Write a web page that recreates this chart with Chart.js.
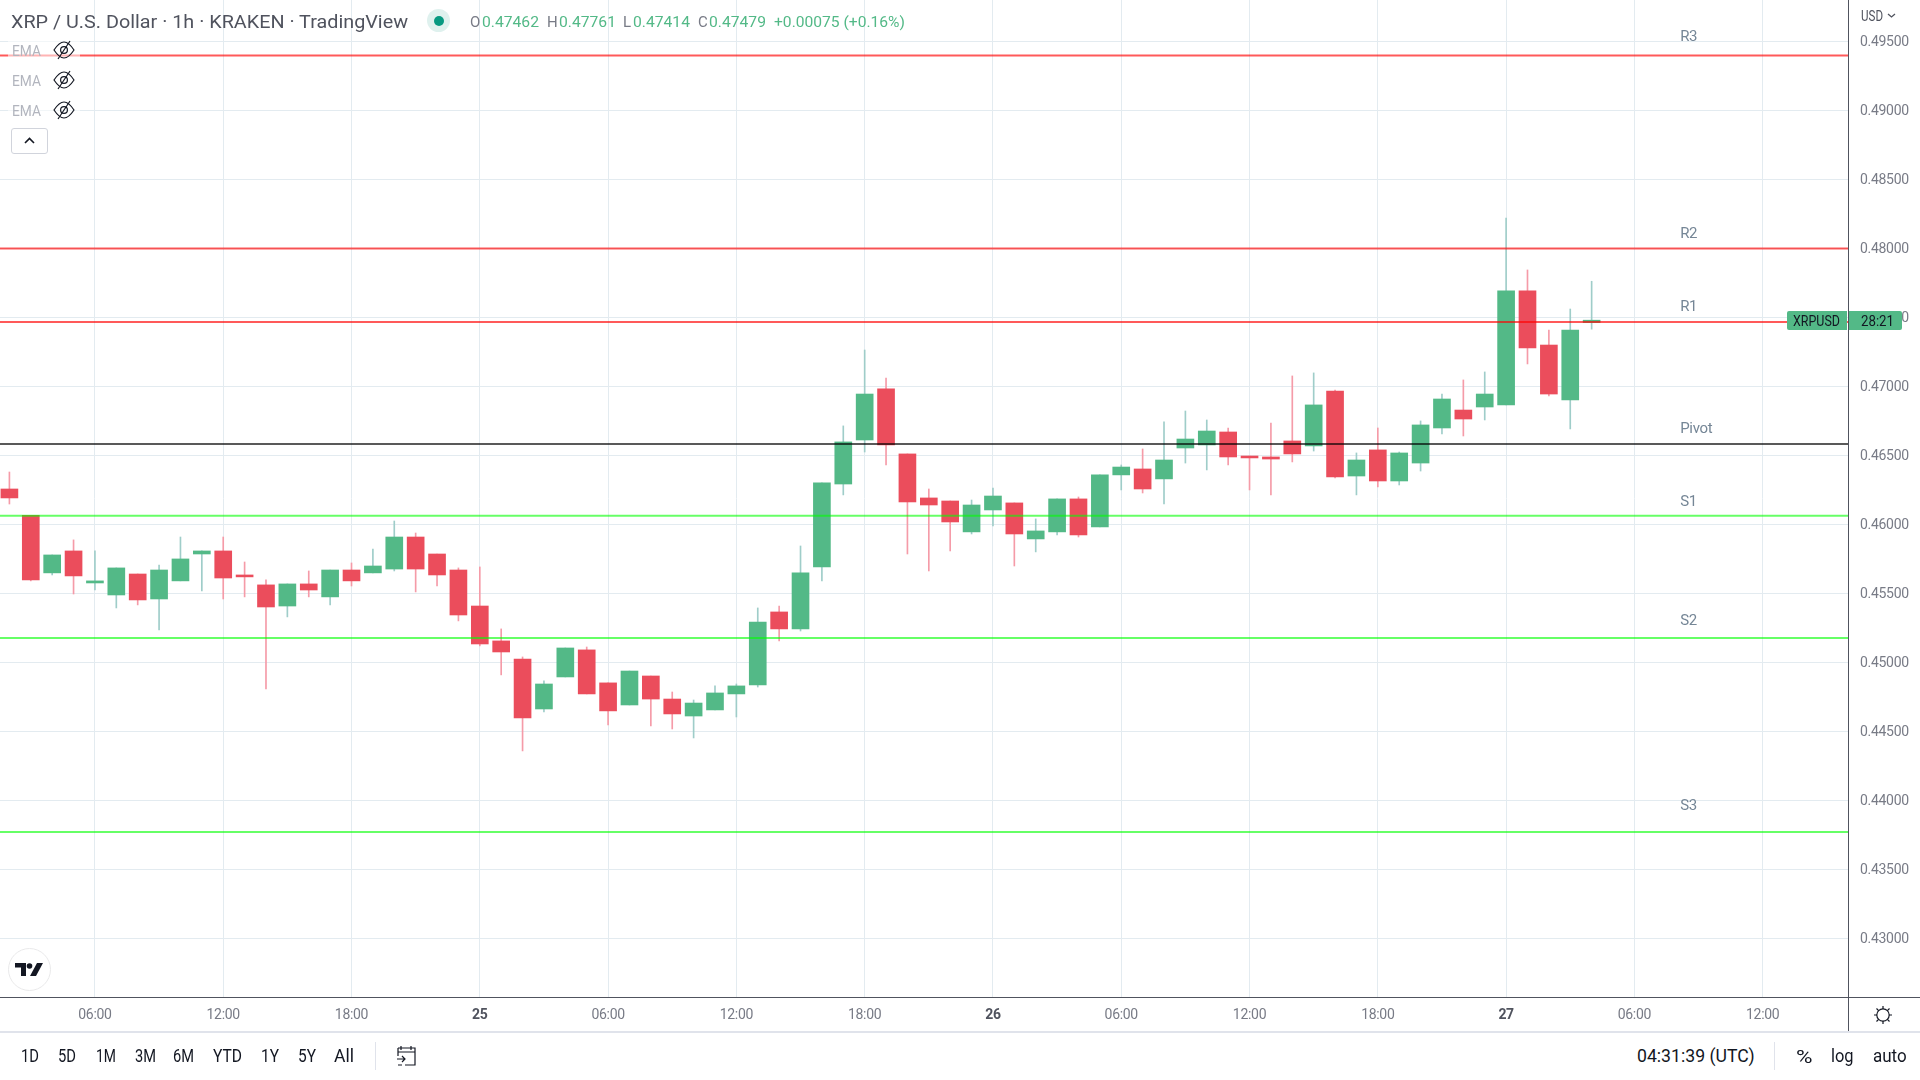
<!DOCTYPE html>
<html><head><meta charset="utf-8">
<script src="https://cdn.jsdelivr.net/npm/chart.js@4"></script>
<style>
html,body{margin:0;padding:0;background:#fff;width:1920px;height:1080px;overflow:hidden}
body{font-family:Roboto,"Liberation Sans",sans-serif;position:relative}
canvas{position:absolute;left:0;top:0}
.t{position:absolute;white-space:nowrap;line-height:1;transform-origin:0 50%}
.l{position:absolute}
svg{position:absolute;overflow:visible}
</style></head><body>
<canvas id="chart" width="1920" height="1031"></canvas>
<div id="ui"></div>
<script>
const opens=[0.46256,0.46065,0.45648,0.45807,0.45575,0.45488,0.45640,0.45459,0.45590,0.45785,0.45807,0.45633,0.45561,0.45408,0.45568,0.45474,0.45669,0.45648,0.45676,0.45908,0.45785,0.45669,0.45408,0.45155,0.45024,0.44662,0.44894,0.45090,0.44851,0.44691,0.44901,0.44734,0.44611,0.44655,0.44771,0.44836,0.45365,0.45242,0.45691,0.46292,0.46611,0.46981,0.46510,0.46191,0.46169,0.45945,0.46104,0.46155,0.45894,0.45945,0.46184,0.45981,0.46358,0.46401,0.46329,0.46553,0.46575,0.46669,0.46495,0.46488,0.46604,0.46568,0.46966,0.46350,0.46539,0.46314,0.46444,0.46698,0.46828,0.46850,0.46865,0.47691,0.47299,0.46901,0.47462];
const highs=[0.46379,0.46065,0.45778,0.45887,0.45807,0.45684,0.45640,0.45705,0.45908,0.45807,0.45908,0.45727,0.45597,0.45568,0.45662,0.45669,0.45720,0.45821,0.46024,0.45937,0.45785,0.45684,0.45691,0.45242,0.45039,0.44865,0.45104,0.45111,0.44851,0.44937,0.44901,0.44785,0.44727,0.44829,0.44843,0.45394,0.45408,0.45843,0.46300,0.46713,0.47263,0.47060,0.46510,0.46256,0.46169,0.46176,0.46263,0.46155,0.46039,0.46184,0.46198,0.46358,0.46430,0.46546,0.46742,0.46821,0.46756,0.46698,0.46495,0.46734,0.47075,0.47097,0.46973,0.46517,0.46698,0.46524,0.46749,0.46944,0.47046,0.47104,0.48219,0.47843,0.47408,0.47560,0.47761];
const lows=[0.46147,0.45590,0.45633,0.45495,0.45524,0.45394,0.45416,0.45235,0.45590,0.45517,0.45459,0.45474,0.44807,0.45329,0.45474,0.45416,0.45553,0.45648,0.45662,0.45510,0.45553,0.45300,0.45119,0.44909,0.44358,0.44640,0.44894,0.44771,0.44546,0.44691,0.44539,0.44517,0.44452,0.44655,0.44604,0.44821,0.45155,0.45227,0.45590,0.46213,0.46524,0.46430,0.45785,0.45662,0.45807,0.45930,0.45988,0.45698,0.45800,0.45923,0.45908,0.45981,0.46249,0.46227,0.46147,0.46444,0.46394,0.46430,0.46249,0.46213,0.46452,0.46531,0.46336,0.46213,0.46271,0.46285,0.46386,0.46655,0.46640,0.46756,0.46865,0.47162,0.46930,0.46691,0.47414];
const closes=[0.46191,0.45597,0.45778,0.45626,0.45590,0.45684,0.45452,0.45669,0.45749,0.45807,0.45611,0.45619,0.45401,0.45568,0.45524,0.45669,0.45590,0.45698,0.45908,0.45676,0.45633,0.45343,0.45133,0.45075,0.44597,0.44843,0.45104,0.44771,0.44648,0.44937,0.44734,0.44626,0.44705,0.44778,0.44829,0.45292,0.45242,0.45648,0.46300,0.46597,0.46944,0.46575,0.46162,0.46140,0.46017,0.46140,0.46205,0.45930,0.45952,0.46184,0.45923,0.46358,0.46415,0.46256,0.46466,0.46618,0.46676,0.46488,0.46481,0.46473,0.46510,0.46865,0.46343,0.46466,0.46314,0.46517,0.46720,0.46908,0.46763,0.46944,0.47691,0.47278,0.46944,0.47408,0.47479];
const levelNames=["R3","R2","R1","Pivot","S1","S2","S3"];
const levelValues=[0.49396,0.47998,0.47466,0.46582,0.46062,0.45176,0.43770];
const levelLabelPrices=[0.49529,0.48105,0.47571,0.46687,0.46163,0.45296,0.43957];
const levelColors=["rgba(255,0,0,.65)","rgba(255,0,0,.65)","rgba(255,0,0,.65)","rgba(0,0,0,.65)","rgba(0,255,0,.6)","rgba(0,255,0,.6)","rgba(0,255,0,.6)"];
const priceTicks=[0.43,0.435,0.44,0.445,0.45,0.455,0.46,0.465,0.47,0.475,0.48,0.485,0.49,0.495];
const timeTickIndex=[4,10,16,22,28,34,40,46,52,58,64,70,76,82];
const timeTickLabels=["06:00","12:00","18:00","25","06:00","12:00","18:00","26","06:00","12:00","18:00","27","06:00","12:00"];
const boldTimeLabels=["25","26","27"];
const xRange=[-0.44,85.99], yRange=[0.42575,0.49799], levelLabelX=78.14;
const UP="#53b987",DOWN="#eb4d5c",UPW="#9fcdc9",DOWNW="#f59ba8";

const isUp=i=>closes[i]>=opens[i];
const bodies=opens.map((o,i)=>({x:i,y:[o,closes[i]]}));
const wicks=lows.map((l,i)=>({x:i,y:[l,highs[i]]}));
const levelDatasets=levelValues.map((v,k)=>({type:'line',label:levelNames[k],data:[{x:xRange[0],y:v},{x:xRange[1],y:v}],borderColor:levelColors[k],borderWidth:2,pointRadius:0,order:0}));

const levelLabelPlugin={id:'levelLabels',
 afterLayout(c){const s=c.scales.y,orig=s.drawLabels.bind(s);
  s.drawLabels=a=>{c.ctx.save();c.ctx.translate(0,1.2);orig(a);c.ctx.restore();};},
 beforeDraw(c){c.ctx.letterSpacing='-0.3px';},
 afterDatasetsDraw(c){
  const g=c.ctx;g.save();g.font='15px Roboto';g.fillStyle='#758696';g.textBaseline='middle';g.textAlign='left';
  levelNames.forEach((n,k)=>g.fillText(n,c.scales.x.getPixelForValue(levelLabelX),c.scales.y.getPixelForValue(levelLabelPrices[k])));
  g.restore();}};

new Chart(document.getElementById('chart'),{
 type:'bar',
 data:{datasets:[
  {label:'body',data:bodies,grouped:false,barThickness:17,borderWidth:0,borderSkipped:false,backgroundColor:bodies.map((b,i)=>isUp(i)?UP:DOWN),order:1},
  {label:'wick',data:wicks,grouped:false,barThickness:1,borderWidth:0,borderSkipped:false,backgroundColor:wicks.map((b,i)=>isUp(i)?UPW:DOWNW),order:2},
  ...levelDatasets]},
 plugins:[levelLabelPlugin],
 options:{responsive:false,animation:false,devicePixelRatio:1,
  layout:{padding:0,autoPadding:false},
  plugins:{legend:{display:false},tooltip:{enabled:false}},
  scales:{
   x:{type:'linear',min:xRange[0],max:xRange[1],offset:false,
    afterBuildTicks(s){s.ticks=timeTickIndex.map(v=>({value:v}));},
    afterFit(s){s.height=34;s.paddingLeft=0;s.paddingRight=0;},
    grid:{color:'#e3ebf0',lineWidth:1,drawTicks:false,offset:false},border:{display:false},
    ticks:{autoSkip:false,maxRotation:0,minRotation:0,padding:10,color:c=>boldTimeLabels.includes(timeTickLabels[c.index])?'#50535e':'#787b86',
     font:c=>({family:'Roboto',size:14,weight:boldTimeLabels.includes(timeTickLabels[c.index])?'bold':'normal'}),
     callback:(v,i)=>timeTickLabels[i]}},
   y:{type:'linear',position:'right',min:yRange[0],max:yRange[1],
    afterBuildTicks(s){s.ticks=priceTicks.map(v=>({value:v}));},
    afterFit(s){s.width=72;s.paddingTop=0;s.paddingBottom=0;},
    grid:{color:'#e3ebf0',lineWidth:1,drawTicks:false},border:{display:false},
    ticks:{padding:12,color:'#787b86',font:{family:'Roboto',size:14},callback:v=>v.toFixed(5)}}
  }}});

/* chrome */
const ui=document.getElementById('ui');
function txt(s,x,y,size,color,w,center){
 const d=document.createElement('div');d.className='t';d.textContent=s;
 d.style.cssText=`left:${x}px;top:${y}px;font-size:${size}px;color:${color}`;
 ui.appendChild(d);
 const k=w?w/d.getBoundingClientRect().width:1;
 const shift=center?`translateX(-${(w||0)/2}px) `:'';
 d.style.transform=`${shift}translateY(-50%) scaleX(${k})`;
 return d;}
function box(x,y,w,h,css){const d=document.createElement('div');d.className='l';d.style.cssText=`left:${x}px;top:${y}px;width:${w}px;height:${h}px;${css}`;ui.appendChild(d);return d;}
function svg(x,y,w,h,inner){const n=document.createElement('div');n.innerHTML=`<svg style="left:${x}px;top:${y}px" width="${w}" height="${h}" viewBox="0 0 ${w} ${h}">${inner}</svg>`;ui.appendChild(n);}
box(0,997,1920,1,'background:#50535e');
box(1848,0,1,1031,'background:#50535e');
box(0,1031,1920,2,'background:#e0e3eb');
// header
txt('XRP / U.S. Dollar · 1h · KRAKEN · TradingView',11,21.5,18.5,'#50535e',397);
box(427,9,23,23,'border-radius:50%;background:#dff1ee');
box(433.5,15.5,10,10,'border-radius:50%;background:#089981');
const ohlc=[['O',470,'0.47462',482],['H',547,'0.47761',558.5],['L',623,'0.47414',632.5],['C',698,'0.47479',708.5]];
ohlc.forEach(a=>{txt(a[0],a[1],21.5,15,'#787b86');txt(a[2],a[3],21.5,15,UP,57);});
txt('+0.00075 (+0.16%)',774,21.5,15,UP,131);
// EMA rows
[50,80,110].forEach(y=>{
 box(8,y-12,72,24,'background:rgba(255,255,255,.55)');
 txt('EMA',12,y+0.5,14,'#b2b5be',29);
 svg(53,y-10,22,20,'<path d="M1 10C5 4 9 2 11 2s6 2 10 8c-4 6-8 8-10 8s-6-2-10-8z" fill="none" stroke="#131722" stroke-width="1.2"/><circle cx="11" cy="10" r="3.4" fill="none" stroke="#131722" stroke-width="1.2"/><path d="M5 19L17 1" stroke="#131722" stroke-width="1.2"/>');
});
box(11,128,35,24,'border:1px solid #d1d4dc;border-radius:3px;background:#fff');
svg(24,137,11,7,'<path d="M1 6L5.5 1.5L10 6" fill="none" stroke="#131722" stroke-width="1.6"/>');
// TV logo
box(8,948,41,41,'border:1.5px solid #e9e9ea;border-radius:50%;background:#fff');
svg(15,963,28,14,'<path d="M0 0H11V13H6V4.5H0z" fill="#131722"/><circle cx="14.5" cy="3" r="2.8" fill="#131722"/><path d="M22 0H28L21 13H15z" fill="#131722"/>');
// axis extras
txt('USD',1861,16,14,'#50535e',22);
svg(1887,13,9,6,'<path d="M1 1L4.5 4L8 1" fill="none" stroke="#50535e" stroke-width="1.3"/>');
// price tag
box(1787,311,60,19,`background:${UP};border-radius:2px 0 0 2px`);
box(1849,311,53,19,`background:${UP};border-radius:0 2px 2px 0`);
txt('XRPUSD',1792.5,320.5,15,'#131722',47);
txt('28:21',1860.5,320.5,15,'#131722',33);
// gear
svg(1873,1005,20,20,'<circle cx="10" cy="10" r="6.2" fill="none" stroke="#131722" stroke-width="1.2"/><path d="M10 1V4M10 16V19M1 10H4M16 10H19M3.5 3.5L5.6 5.6M14.4 14.4L16.5 16.5M3.5 16.5L5.6 14.4M14.4 5.6L16.5 3.5" stroke="#131722" stroke-width="1.2"/>');
// bottom bar
const ranges=['1D','5D','1M','3M','6M','YTD','1Y','5Y','All'],rangeX=[21,58,96,135,173,213,261,298,334],rangeW=[18,18,20,21,21,29,18,18,20];
ranges.forEach((r,i)=>txt(r,rangeX[i],1056.5,17.5,'#131722',rangeW[i]));
box(375,1042,1,28,'background:#e0e3eb');
svg(397,1046,20,20,'<path d="M4 0V4M14 0V4M1 2H18V19H8M1 2V10M1 6H18M0 13H8M5 10L8 13L5 16M1 19H5" fill="none" stroke="#131722" stroke-width="1.2"/>');
txt('04:31:39 (UTC)',1636.7,1056.5,17.5,'#131722',117.6);
box(1774,1042,1,28,'background:#e0e3eb');
txt('%',1796,1056,19,'#131722',16.5);
txt('log',1831,1056.5,17.5,'#131722',22.6);
txt('auto',1872.5,1056.5,17.5,'#131722',33.7);
</script>
</body></html>
